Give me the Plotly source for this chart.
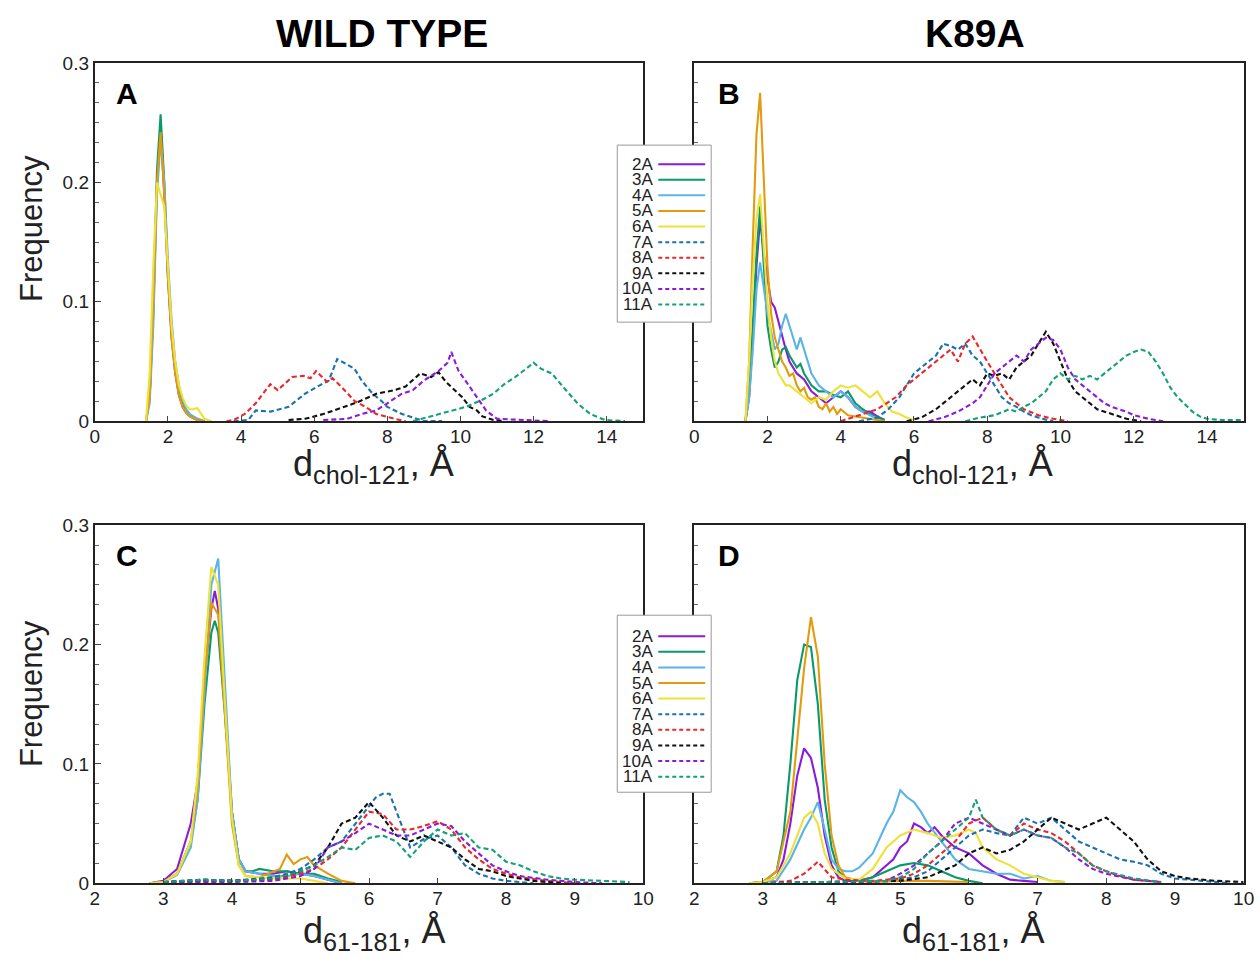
import plotly.graph_objects as go

# ---------------- series names / styles ----------------
names = ["2A", "3A", "4A", "5A", "6A", "7A", "8A", "9A", "10A", "11A"]
colors = ["#8A1BD8", "#0A9A6A", "#5BB4E5", "#E39B0E", "#EDE13A",
          "#1A72B0", "#E8282A", "#111111", "#8A1BD8", "#13A07A"]
dashed = [False, False, False, False, False, True, True, True, True, True]

x_ticks_top = [0, 2, 4, 6, 8, 10, 12, 14]
x_ticks_bot = [2, 3, 4, 5, 6, 7, 8, 9, 10]
y_ticks = [0, 0.1, 0.2, 0.3]

# ---------------- Panel A: wild type, d_chol-121 ----------------
A_2A_x = [1.4, 1.5, 1.6, 1.7, 1.8, 1.9, 2.0, 2.1, 2.2, 2.3, 2.4, 2.5, 2.6, 2.8, 3.0]
A_2A_y = [0, 0.02, 0.09, 0.2, 0.245, 0.19, 0.12, 0.07, 0.04, 0.022, 0.012, 0.007, 0.004, 0.001, 0]
A_3A_x = [1.4, 1.5, 1.6, 1.7, 1.8, 1.9, 2.0, 2.1, 2.2, 2.3, 2.4, 2.5, 2.6, 2.8, 3.0]
A_3A_y = [0, 0.02, 0.1, 0.21, 0.257, 0.2, 0.125, 0.075, 0.045, 0.025, 0.014, 0.008, 0.005, 0.002, 0]
A_4A_x = [1.4, 1.5, 1.6, 1.7, 1.8, 1.9, 2.0, 2.1, 2.2, 2.3, 2.4, 2.5, 2.6, 2.8, 3.0]
A_4A_y = [0, 0.015, 0.08, 0.19, 0.235, 0.2, 0.135, 0.085, 0.05, 0.03, 0.018, 0.01, 0.006, 0.002, 0]
A_5A_x = [1.4, 1.5, 1.6, 1.7, 1.8, 1.9, 2.0, 2.1, 2.2, 2.3, 2.4, 2.5, 2.6, 2.8, 3.0]
A_5A_y = [0, 0.02, 0.1, 0.2, 0.242, 0.19, 0.12, 0.07, 0.04, 0.022, 0.012, 0.007, 0.004, 0.001, 0]
A_6A_x = [1.4, 1.5, 1.6, 1.7, 1.8, 1.9, 2.0, 2.1, 2.2, 2.3, 2.4, 2.5, 2.6, 2.7, 2.8, 2.9, 3.0, 3.2]
A_6A_y = [0, 0.04, 0.13, 0.2, 0.19, 0.18, 0.13, 0.08, 0.05, 0.03, 0.02, 0.013, 0.01, 0.01, 0.011, 0.006, 0.002, 0]
A_7A_x = [3.8, 4.2, 4.4, 4.8, 5.3, 5.75, 6.15, 6.4, 6.63, 6.9, 7.1, 7.3, 7.6, 7.8, 8.0, 8.4, 8.8, 9.0, 9.5]
A_7A_y = [0, 0.001, 0.009, 0.008, 0.012, 0.023, 0.03, 0.034, 0.052, 0.047, 0.044, 0.034, 0.023, 0.018, 0.012, 0.006, 0.002, 0, 0]
A_8A_x = [3.6, 3.8, 4.1, 4.4, 4.8, 5.0, 5.4, 5.7, 5.9, 6.05, 6.35, 6.5, 6.8, 7.1, 7.4, 7.7, 8.2, 8.5]
A_8A_y = [0, 0.001, 0.006, 0.015, 0.031, 0.026, 0.037, 0.038, 0.036, 0.042, 0.033, 0.036, 0.027, 0.017, 0.012, 0.006, 0.002, 0]
A_9A_x = [5.3, 5.75, 6.25, 6.7, 7.2, 7.7, 8.2, 8.5, 8.9, 9.2, 9.4, 9.6, 9.85, 10.05, 10.25, 10.45, 10.6, 10.9, 11.2]
A_9A_y = [0.001, 0.002, 0.006, 0.011, 0.016, 0.023, 0.026, 0.029, 0.04, 0.037, 0.041, 0.033, 0.026, 0.02, 0.012, 0.009, 0.004, 0.001, 0]
A_10A_x = [6.25, 6.9, 7.3, 7.7, 8.0, 8.4, 8.7, 9.0, 9.4, 9.65, 9.75, 9.95, 10.25, 10.5, 10.7, 11.0, 11.6, 12.4]
A_10A_y = [0.001, 0.002, 0.006, 0.009, 0.015, 0.023, 0.026, 0.034, 0.042, 0.049, 0.058, 0.042, 0.029, 0.018, 0.009, 0.002, 0.001, 0]
A_11A_x = [8.7, 9.2, 9.65, 10.15, 10.6, 10.9, 11.2, 11.5, 11.8, 12.0, 12.2, 12.5, 12.8, 13.2, 13.55, 13.95, 14.5]
A_11A_y = [0, 0.004, 0.008, 0.012, 0.018, 0.023, 0.031, 0.037, 0.044, 0.049, 0.044, 0.04, 0.029, 0.015, 0.006, 0.001, 0]

# ---------------- Panel B: K89A, d_chol-121 ----------------
B_2A_x = [1.4, 1.5, 1.6, 1.7, 1.8, 1.9, 2.0, 2.1, 2.2, 2.4, 2.5, 2.6, 2.8, 3.0, 3.2, 3.4, 3.6, 3.8, 4.0, 4.2, 4.4, 4.6, 4.8, 5.0, 5.2]
B_2A_y = [0, 0.02, 0.07, 0.13, 0.17, 0.14, 0.12, 0.1, 0.095, 0.07, 0.06, 0.05, 0.04, 0.035, 0.025, 0.02, 0.015, 0.02, 0.025, 0.02, 0.012, 0.008, 0.008, 0.004, 0.001]
B_3A_x = [1.4, 1.5, 1.6, 1.7, 1.8, 1.9, 2.0, 2.1, 2.2, 2.3, 2.4, 2.5, 2.6, 2.7, 2.8, 2.9, 3.0, 3.2, 3.4, 3.6, 3.8, 4.0, 4.2, 4.4, 4.6, 4.8, 5.0, 5.2]
B_3A_y = [0, 0.03, 0.08, 0.14, 0.18, 0.13, 0.08, 0.06, 0.045, 0.05, 0.06, 0.062, 0.055, 0.05, 0.045, 0.048, 0.04, 0.03, 0.025, 0.025, 0.022, 0.02, 0.025, 0.015, 0.01, 0.006, 0.003, 0.001]
B_4A_x = [1.4, 1.5, 1.6, 1.7, 1.8, 1.9, 2.0, 2.1, 2.2, 2.3, 2.4, 2.5, 2.6, 2.7, 2.8, 2.9, 3.0, 3.1, 3.2, 3.4, 3.6, 3.8, 4.0, 4.2, 4.4, 4.6, 4.8, 5.0]
B_4A_y = [0, 0.02, 0.06, 0.11, 0.133, 0.11, 0.09, 0.075, 0.06, 0.065, 0.08, 0.09, 0.08, 0.07, 0.06, 0.07, 0.06, 0.05, 0.04, 0.03, 0.025, 0.02, 0.025, 0.02, 0.012, 0.008, 0.005, 0.002]
B_5A_x = [1.4, 1.5, 1.6, 1.7, 1.8, 1.9, 2.0, 2.1, 2.2, 2.3, 2.4, 2.5, 2.6, 2.7, 2.8, 2.9, 3.0, 3.1, 3.2, 3.3, 3.4, 3.5, 3.6, 3.7, 3.8, 3.9, 4.0, 4.2, 4.4, 4.6, 4.8, 5.0, 5.2]
B_5A_y = [0, 0.05, 0.15, 0.24, 0.275, 0.2, 0.13, 0.09, 0.07, 0.06, 0.05, 0.045, 0.038, 0.04, 0.03, 0.025, 0.028, 0.02, 0.018, 0.02, 0.012, 0.01, 0.015, 0.008, 0.012, 0.006, 0.01, 0.005, 0.004, 0.003, 0.002, 0.001, 0]
B_6A_x = [1.4, 1.5, 1.6, 1.7, 1.8, 1.9, 2.0, 2.1, 2.2, 2.3, 2.4, 2.5, 2.6, 2.8, 3.0, 3.2, 3.4, 3.6, 3.8, 4.0, 4.2, 4.4, 4.6, 4.8, 5.0, 5.2, 5.4, 5.6, 5.8, 6.0]
B_6A_y = [0, 0.05, 0.12, 0.17, 0.19, 0.14, 0.1, 0.07, 0.05, 0.04, 0.035, 0.03, 0.03, 0.025, 0.02, 0.015, 0.02, 0.018, 0.025, 0.03, 0.028, 0.03, 0.025, 0.02, 0.025, 0.015, 0.008, 0.006, 0.003, 0.001]
B_7A_x = [4.5, 5.0, 5.3, 5.6, 5.8, 6.0, 6.2, 6.4, 6.6, 6.8, 7.0, 7.2, 7.4, 7.6, 7.8, 8.0, 8.2, 8.4, 8.6, 8.8, 9.0, 9.2, 9.5, 9.8]
B_7A_y = [0, 0.003, 0.01, 0.02, 0.03, 0.04, 0.045, 0.05, 0.055, 0.065, 0.063, 0.06, 0.065, 0.055, 0.05, 0.04, 0.03, 0.02, 0.015, 0.012, 0.008, 0.005, 0.002, 0]
B_8A_x = [4.0, 4.5, 5.0, 5.5, 5.8, 6.0, 6.2, 6.4, 6.6, 6.8, 7.0, 7.2, 7.4, 7.6, 7.8, 8.0, 8.2, 8.4, 8.6, 8.8, 9.0, 9.4, 9.8, 10.2]
B_8A_y = [0, 0.005, 0.01, 0.02, 0.03, 0.035, 0.04, 0.045, 0.05, 0.055, 0.06, 0.05, 0.065, 0.071, 0.06, 0.05, 0.04, 0.03, 0.02, 0.015, 0.01, 0.005, 0.002, 0]
B_9A_x = [5.8, 6.2, 6.6, 7.0, 7.2, 7.4, 7.6, 7.8, 8.0, 8.2, 8.4, 8.6, 8.8, 9.0, 9.2, 9.4, 9.6, 9.8, 10.0, 10.2, 10.4, 10.6, 10.8, 11.0, 11.4, 11.8, 12.2]
B_9A_y = [0, 0.003, 0.01, 0.02, 0.025, 0.03, 0.035, 0.03, 0.04, 0.038, 0.04, 0.035, 0.045, 0.05, 0.055, 0.065, 0.075, 0.065, 0.05, 0.035, 0.025, 0.02, 0.015, 0.01, 0.006, 0.002, 0]
B_10A_x = [6.4, 6.8, 7.2, 7.6, 7.8, 8.0, 8.2, 8.4, 8.6, 8.8, 9.0, 9.2, 9.4, 9.6, 9.8, 10.0, 10.2, 10.4, 10.6, 10.8, 11.0, 11.2, 11.4, 11.6, 11.8, 12.0, 12.4, 12.8]
B_10A_y = [0, 0.003, 0.008, 0.015, 0.02, 0.03, 0.04, 0.045, 0.05, 0.055, 0.05, 0.06, 0.065, 0.07, 0.068, 0.06, 0.045, 0.035, 0.03, 0.025, 0.02, 0.015, 0.012, 0.01, 0.008, 0.005, 0.002, 0]
B_11A_x = [7.4, 7.8, 8.2, 8.6, 8.8, 9.0, 9.2, 9.4, 9.6, 9.8, 10.0, 10.2, 10.4, 10.6, 10.8, 11.0, 11.2, 11.4, 11.6, 11.8, 12.0, 12.2, 12.4, 12.6, 12.8, 13.0, 13.2, 13.4, 13.6, 13.8, 14.0, 14.4, 15.0]
B_11A_y = [0, 0.003, 0.005, 0.01, 0.008, 0.012, 0.015, 0.02, 0.025, 0.035, 0.04, 0.035, 0.038, 0.035, 0.038, 0.035, 0.04, 0.045, 0.05, 0.055, 0.058, 0.06, 0.058, 0.05, 0.04, 0.028, 0.02, 0.014, 0.008, 0.004, 0.002, 0.001, 0.001]

# ---------------- Panel C: wild type, d_61-181 ----------------
C_2A_x = [2.8, 3.0, 3.2, 3.3, 3.4, 3.5, 3.6, 3.7, 3.75, 3.8, 3.9, 4.0, 4.1, 4.2, 4.4, 4.6, 4.8, 5.0, 5.2, 5.4, 5.6]
C_2A_y = [0, 0.002, 0.012, 0.03, 0.05, 0.085, 0.17, 0.23, 0.245, 0.23, 0.15, 0.06, 0.02, 0.01, 0.008, 0.008, 0.01, 0.008, 0.006, 0.003, 0]
C_3A_x = [2.8, 3.0, 3.2, 3.4, 3.5, 3.6, 3.7, 3.75, 3.8, 3.9, 4.0, 4.1, 4.2, 4.3, 4.4, 4.6, 4.8, 5.0, 5.2, 5.4, 5.6]
C_3A_y = [0, 0.001, 0.008, 0.035, 0.07, 0.15, 0.21, 0.22, 0.21, 0.14, 0.06, 0.02, 0.01, 0.01, 0.012, 0.01, 0.01, 0.008, 0.008, 0.004, 0.001]
C_4A_x = [2.8, 3.0, 3.2, 3.4, 3.5, 3.6, 3.7, 3.8, 3.9, 4.0, 4.1, 4.2, 4.4, 4.6, 4.8, 5.0, 5.2, 5.4, 5.6]
C_4A_y = [0, 0.001, 0.007, 0.03, 0.07, 0.16, 0.25, 0.272, 0.16, 0.06, 0.02, 0.01, 0.008, 0.006, 0.006, 0.008, 0.006, 0.003, 0]
C_5A_x = [2.8, 3.0, 3.2, 3.4, 3.5, 3.6, 3.7, 3.8, 3.9, 4.0, 4.1, 4.2, 4.4, 4.6, 4.7, 4.8, 4.9, 5.0, 5.1, 5.2, 5.4, 5.6, 5.8]
C_5A_y = [0, 0.001, 0.008, 0.035, 0.08, 0.17, 0.235, 0.225, 0.14, 0.05, 0.015, 0.006, 0.005, 0.01, 0.012, 0.024, 0.016, 0.02, 0.022, 0.015, 0.008, 0.002, 0]
C_6A_x = [2.8, 3.0, 3.2, 3.4, 3.5, 3.6, 3.7, 3.8, 3.9, 4.0, 4.1, 4.2, 4.4, 4.6, 4.8, 5.0, 5.2, 5.4]
C_6A_y = [0, 0.001, 0.008, 0.035, 0.09, 0.19, 0.265, 0.25, 0.15, 0.055, 0.015, 0.006, 0.005, 0.004, 0.004, 0.004, 0.002, 0]
C_7A_x = [3.0, 3.6, 4.0, 4.6, 4.8, 5.0, 5.2, 5.4, 5.6, 5.8, 6.0, 6.1, 6.2, 6.3, 6.4, 6.6, 6.8, 7.0, 7.2, 7.4, 7.6, 7.8, 8.0, 8.4]
C_7A_y = [0.001, 0.002, 0.002, 0.005, 0.008, 0.012, 0.02, 0.03, 0.035, 0.05, 0.065, 0.072, 0.075, 0.075, 0.06, 0.03, 0.037, 0.04, 0.03, 0.015, 0.008, 0.004, 0.002, 0]
C_8A_x = [3.0, 4.0, 4.6, 5.0, 5.2, 5.4, 5.6, 5.8, 6.0, 6.2, 6.4, 6.6, 6.8, 7.0, 7.2, 7.4, 7.6, 7.8, 8.0, 8.2, 8.6, 9.0]
C_8A_y = [0.001, 0.002, 0.003, 0.008, 0.012, 0.02, 0.03, 0.045, 0.06, 0.058, 0.045, 0.045, 0.048, 0.052, 0.045, 0.03, 0.02, 0.012, 0.008, 0.005, 0.002, 0]
C_9A_x = [3.0, 3.6, 4.0, 4.6, 5.0, 5.2, 5.4, 5.6, 5.8, 6.0, 6.2, 6.4, 6.6, 6.8, 7.0, 7.2, 7.4, 7.6, 7.8, 8.0, 8.4, 8.8]
C_9A_y = [0.001, 0.003, 0.002, 0.004, 0.01, 0.015, 0.03, 0.05, 0.055, 0.068, 0.055, 0.04, 0.035, 0.04, 0.035, 0.03, 0.02, 0.012, 0.01, 0.006, 0.002, 0]
C_10A_x = [3.0, 4.0, 4.6, 5.0, 5.2, 5.4, 5.6, 5.8, 6.0, 6.2, 6.4, 6.6, 6.8, 7.0, 7.2, 7.4, 7.6, 7.8, 8.0, 8.2, 8.6, 9.0, 9.4]
C_10A_y = [0.001, 0.001, 0.002, 0.006, 0.012, 0.03, 0.035, 0.042, 0.05, 0.045, 0.04, 0.04, 0.045, 0.05, 0.048, 0.035, 0.025, 0.015, 0.01, 0.006, 0.003, 0.001, 0]
C_11A_x = [3.0, 3.4, 3.6, 4.0, 4.6, 5.0, 5.2, 5.4, 5.6, 5.8, 6.0, 6.2, 6.4, 6.6, 6.8, 7.0, 7.2, 7.4, 7.6, 7.8, 8.0, 8.2, 8.4, 8.6, 8.8, 9.0, 9.4, 9.8]
C_11A_y = [0.001, 0.002, 0.003, 0.002, 0.004, 0.01, 0.015, 0.022, 0.03, 0.028, 0.038, 0.04, 0.035, 0.022, 0.035, 0.045, 0.04, 0.042, 0.03, 0.028, 0.018, 0.015, 0.01, 0.006, 0.004, 0.003, 0.002, 0.001]

# ---------------- Panel D: K89A, d_61-181 ----------------
D_2A_x = [2.8, 3.0, 3.2, 3.3, 3.4, 3.5, 3.6, 3.7, 3.8, 3.9, 4.0, 4.1, 4.2, 4.4, 4.6, 4.8, 4.9, 5.0, 5.1, 5.2, 5.3, 5.4, 5.5, 5.6, 5.8, 6.0, 6.2, 6.4, 6.6, 6.8, 7.0]
D_2A_y = [0, 0.001, 0.005, 0.02, 0.05, 0.09, 0.113, 0.105, 0.08, 0.04, 0.015, 0.005, 0.002, 0.002, 0.005, 0.015, 0.02, 0.03, 0.035, 0.05, 0.047, 0.042, 0.047, 0.04, 0.03, 0.025, 0.015, 0.008, 0.003, 0.002, 0.001]
D_3A_x = [2.8, 3.0, 3.2, 3.3, 3.4, 3.5, 3.6, 3.7, 3.8, 3.9, 4.0, 4.1, 4.2, 4.4, 4.6, 4.8, 5.0, 5.2, 5.4, 5.6, 5.8, 6.0, 6.2]
D_3A_y = [0, 0.001, 0.01, 0.04, 0.1, 0.17, 0.2, 0.198, 0.15, 0.07, 0.03, 0.01, 0.004, 0.002, 0.005, 0.01, 0.015, 0.017, 0.015, 0.01, 0.005, 0.002, 0]
D_4A_x = [2.8, 3.0, 3.2, 3.4, 3.6, 3.7, 3.8, 3.9, 4.0, 4.1, 4.2, 4.3, 4.4, 4.6, 4.8, 4.9, 5.0, 5.1, 5.2, 5.3, 5.4, 5.6, 5.8, 6.0, 6.2, 6.4, 6.6, 6.8, 7.0, 7.2, 7.4]
D_4A_y = [0, 0.001, 0.002, 0.02, 0.045, 0.055, 0.068, 0.045, 0.02, 0.012, 0.01, 0.01, 0.013, 0.025, 0.05, 0.06, 0.078, 0.072, 0.068, 0.06, 0.05, 0.035, 0.02, 0.012, 0.01, 0.008, 0.008, 0.004, 0.006, 0.002, 0.001]
D_5A_x = [2.8, 3.0, 3.2, 3.4, 3.5, 3.6, 3.7, 3.8, 3.9, 4.0, 4.1, 4.2, 4.4, 4.6, 5.0, 5.4, 6.0]
D_5A_y = [0, 0.001, 0.01, 0.06, 0.12, 0.18, 0.223, 0.19, 0.1, 0.04, 0.015, 0.005, 0.002, 0.001, 0.002, 0.002, 0.001]
D_6A_x = [2.8, 3.0, 3.2, 3.4, 3.6, 3.7, 3.8, 3.9, 4.0, 4.2, 4.4, 4.6, 4.8, 5.0, 5.2, 5.4, 5.6, 5.8, 6.0, 6.1, 6.2, 6.4, 6.6, 6.8, 7.0, 7.2, 7.4]
D_6A_y = [0, 0.001, 0.005, 0.025, 0.055, 0.06, 0.05, 0.025, 0.012, 0.004, 0.003, 0.012, 0.03, 0.04, 0.045, 0.042, 0.038, 0.04, 0.045, 0.042, 0.03, 0.02, 0.015, 0.008, 0.005, 0.002, 0.001]
D_7A_x = [3.0, 4.0, 4.8, 5.2, 5.4, 5.6, 5.8, 6.0, 6.2, 6.4, 6.6, 6.8, 7.0, 7.2, 7.4, 7.6, 7.8, 8.0, 8.2, 8.4, 8.6, 8.8, 9.0, 9.4, 9.8]
D_7A_y = [0, 0.001, 0.002, 0.005, 0.01, 0.02, 0.03, 0.04, 0.045, 0.042, 0.04, 0.055, 0.05, 0.055, 0.045, 0.035, 0.03, 0.025, 0.02, 0.018, 0.015, 0.008, 0.004, 0.002, 0]
D_8A_x = [3.0, 3.4, 3.6, 3.8, 4.0, 4.2, 4.6, 5.0, 5.2, 5.4, 5.6, 5.8, 6.0, 6.2, 6.4, 6.6, 6.8, 7.0, 7.2, 7.4, 7.6, 7.8, 8.0, 8.2, 8.4, 8.8]
D_8A_y = [0, 0.002, 0.008, 0.018, 0.005, 0.003, 0.002, 0.004, 0.008, 0.015, 0.025, 0.035, 0.05, 0.055, 0.045, 0.04, 0.05, 0.045, 0.042, 0.035, 0.025, 0.015, 0.01, 0.006, 0.003, 0.001]
D_9A_x = [3.0, 4.0, 4.6, 5.0, 5.4, 5.8, 6.0, 6.2, 6.4, 6.6, 6.8, 7.0, 7.2, 7.4, 7.6, 7.8, 8.0, 8.2, 8.4, 8.6, 8.8, 9.0, 9.2, 9.6, 10.0]
D_9A_y = [0, 0.001, 0.001, 0.002, 0.005, 0.015, 0.025, 0.03, 0.025, 0.028, 0.035, 0.045, 0.055, 0.05, 0.045, 0.05, 0.055, 0.045, 0.035, 0.02, 0.01, 0.006, 0.004, 0.002, 0.001]
D_10A_x = [3.0, 4.0, 4.8, 5.0, 5.2, 5.4, 5.6, 5.8, 6.0, 6.2, 6.4, 6.6, 6.8, 7.0, 7.2, 7.4, 7.6, 7.8, 8.0, 8.4, 8.8]
D_10A_y = [0, 0.001, 0.002, 0.008, 0.015, 0.025, 0.035, 0.05, 0.055, 0.05, 0.045, 0.04, 0.045, 0.04, 0.038, 0.03, 0.02, 0.012, 0.008, 0.003, 0.001]
D_11A_x = [3.0, 4.0, 4.8, 5.0, 5.2, 5.4, 5.6, 5.8, 6.0, 6.1, 6.2, 6.4, 6.6, 6.8, 7.0, 7.2, 7.4, 7.6, 7.8, 8.0, 8.4, 8.8]
D_11A_y = [0, 0.001, 0.002, 0.005, 0.012, 0.025, 0.035, 0.045, 0.055, 0.07, 0.055, 0.045, 0.04, 0.045, 0.04, 0.038, 0.03, 0.025, 0.015, 0.01, 0.004, 0.001]

panel_data = {
    "A": [(A_2A_x, A_2A_y), (A_3A_x, A_3A_y), (A_4A_x, A_4A_y), (A_5A_x, A_5A_y), (A_6A_x, A_6A_y),
          (A_7A_x, A_7A_y), (A_8A_x, A_8A_y), (A_9A_x, A_9A_y), (A_10A_x, A_10A_y), (A_11A_x, A_11A_y)],
    "B": [(B_2A_x, B_2A_y), (B_3A_x, B_3A_y), (B_4A_x, B_4A_y), (B_5A_x, B_5A_y), (B_6A_x, B_6A_y),
          (B_7A_x, B_7A_y), (B_8A_x, B_8A_y), (B_9A_x, B_9A_y), (B_10A_x, B_10A_y), (B_11A_x, B_11A_y)],
    "C": [(C_2A_x, C_2A_y), (C_3A_x, C_3A_y), (C_4A_x, C_4A_y), (C_5A_x, C_5A_y), (C_6A_x, C_6A_y),
          (C_7A_x, C_7A_y), (C_8A_x, C_8A_y), (C_9A_x, C_9A_y), (C_10A_x, C_10A_y), (C_11A_x, C_11A_y)],
    "D": [(D_2A_x, D_2A_y), (D_3A_x, D_3A_y), (D_4A_x, D_4A_y), (D_5A_x, D_5A_y), (D_6A_x, D_6A_y),
          (D_7A_x, D_7A_y), (D_8A_x, D_8A_y), (D_9A_x, D_9A_y), (D_10A_x, D_10A_y), (D_11A_x, D_11A_y)],
}

# ---------------- layout geometry ----------------
W, H = 1260, 962
FONT = "Liberation Sans, Arial, Helvetica, sans-serif"

# target positions are given in picture pixels; the photographed page shows
# a slight inset, which these two linear maps undo.
def page_x(p):
    return (p - 4.1) / 0.9883

def page_y(p):
    return (p - 9.9) / 0.978

def px_x(p):
    return page_x(p) / W

def px_y(p):
    return 1 - page_y(p) / H

col_dom = [[px_x(94), px_x(643)], [px_x(694), px_x(1244)]]
row_dom = [[px_y(421), px_y(63)], [px_y(883), px_y(525)]]

panels = [("A", 0, 0, "x", "y"), ("B", 0, 1, "x2", "y2"),
          ("C", 1, 0, "x3", "y3"), ("D", 1, 1, "x4", "y4")]
letter_pos = {"A": (126, 93), "B": (729, 93), "C": (126, 555), "D": (729, 555)}

fig = go.Figure()

for letter, r, c, xa, ya in panels:
    for i, (xs, ys) in enumerate(panel_data[letter]):
        fig.add_trace(go.Scatter(
            x=xs, y=ys, mode="lines", name=names[i], showlegend=False,
            line=dict(color=colors[i], width=2.1,
                      dash="5px,3px" if dashed[i] else "solid"),
            xaxis=xa, yaxis=ya, hoverinfo="skip"))

layout = dict(width=W, height=H, margin=dict(l=0, r=0, t=0, b=0),
              paper_bgcolor="white", plot_bgcolor="white",
              font=dict(family=FONT, color="#222"), showlegend=False)

for k, (letter, r, c, xa, ya) in enumerate(panels):
    suffix = "" if k == 0 else str(k + 1)
    top = r == 0
    layout["xaxis" + suffix] = dict(
        domain=col_dom[c], anchor=ya,
        range=[0, 15] if top else [2, 10],
        tickvals=x_ticks_top if top else x_ticks_bot,
        ticks="inside", ticklen=5, tickwidth=1, tickcolor="#444",
        ticklabelstandoff=-3,
        showline=True, linewidth=2, linecolor="#222", mirror=True,
        showgrid=False, zeroline=False,
        tickfont=dict(size=19, family=FONT, color="#222"))
    layout["yaxis" + suffix] = dict(
        domain=row_dom[r], anchor=xa,
        range=[0, 0.3], tickvals=y_ticks,
        ticks="inside", ticklen=6, tickwidth=1, tickcolor="#444",
        minor=dict(dtick=0.1 / 6, tick0=0, ticks="inside", ticklen=4, tickcolor="#666"),
        showticklabels=(c == 0),
        showline=True, linewidth=2, linecolor="#222", mirror=True,
        showgrid=False, zeroline=False,
        tickfont=dict(size=19, family=FONT, color="#222"))

annotations = []
# panel letters
for letter, r, c, xa, ya in panels:
    lx, ly = letter_pos[letter]
    annotations.append(dict(text="<b>%s</b>" % letter, xref="paper", yref="paper",
                            x=px_x(lx), y=px_y(ly), xanchor="center", yanchor="middle",
                            showarrow=False, font=dict(size=30, family=FONT, color="black")))
# column titles
annotations.append(dict(text="<b>WILD TYPE</b>", xref="paper", yref="paper",
                        x=px_x(381), y=px_y(33), xanchor="center", yanchor="middle",
                        showarrow=False, font=dict(size=39, family=FONT, color="black")))
annotations.append(dict(text="<b>K89A</b>", xref="paper", yref="paper",
                        x=px_x(975), y=px_y(33), xanchor="center", yanchor="middle",
                        showarrow=False, font=dict(size=39, family=FONT, color="black")))
# x axis titles
xt_top = "d<sub>chol-121</sub>, Å"
xt_bot = "d<sub>61-181</sub>, Å"
for cx in (373, 973):
    annotations.append(dict(text=xt_top, xref="paper", yref="paper", x=px_x(cx), y=px_y(466),
                            xanchor="center", yanchor="middle", showarrow=False,
                            font=dict(size=36, family=FONT, color="#222")))
    annotations.append(dict(text=xt_bot, xref="paper", yref="paper", x=px_x(cx), y=px_y(933),
                            xanchor="center", yanchor="middle", showarrow=False,
                            font=dict(size=36, family=FONT, color="#222")))
# y axis titles
for cy in (228, 693):
    annotations.append(dict(text="Frequency", xref="paper", yref="paper", x=px_x(30), y=px_y(cy),
                            xanchor="center", yanchor="middle", textangle=-90, showarrow=False,
                            font=dict(size=31, family=FONT, color="#222")))

# manual legends (label, then line sample), one per row
shapes = []
for top_px, first_px in ((145, 164), (615, 636)):
    shapes.append(dict(type="rect", xref="paper", yref="paper", layer="above",
                       x0=px_x(617), x1=px_x(711), y0=px_y(top_px), y1=px_y(top_px + 177),
                       line=dict(color="#999", width=1), fillcolor="white"))
    for i, nm in enumerate(names):
        yy = first_px + i * 15.6
        annotations.append(dict(text=nm, xref="paper", yref="paper", x=px_x(655), y=px_y(yy),
                                xanchor="right", yanchor="middle", showarrow=False,
                                font=dict(size=17, family=FONT, color="#222")))
        shapes.append(dict(type="line", xref="paper", yref="paper", layer="above",
                           x0=px_x(658), x1=px_x(705), y0=px_y(yy), y1=px_y(yy),
                           line=dict(color=colors[i], width=2,
                                     dash="4px,3px" if dashed[i] else "solid")))

layout["annotations"] = annotations
layout["shapes"] = shapes
fig.update_layout(**layout)

fig.write_html("out.html", config={"displayModeBar": False},
               post_script="document.body.style.margin='0';")
